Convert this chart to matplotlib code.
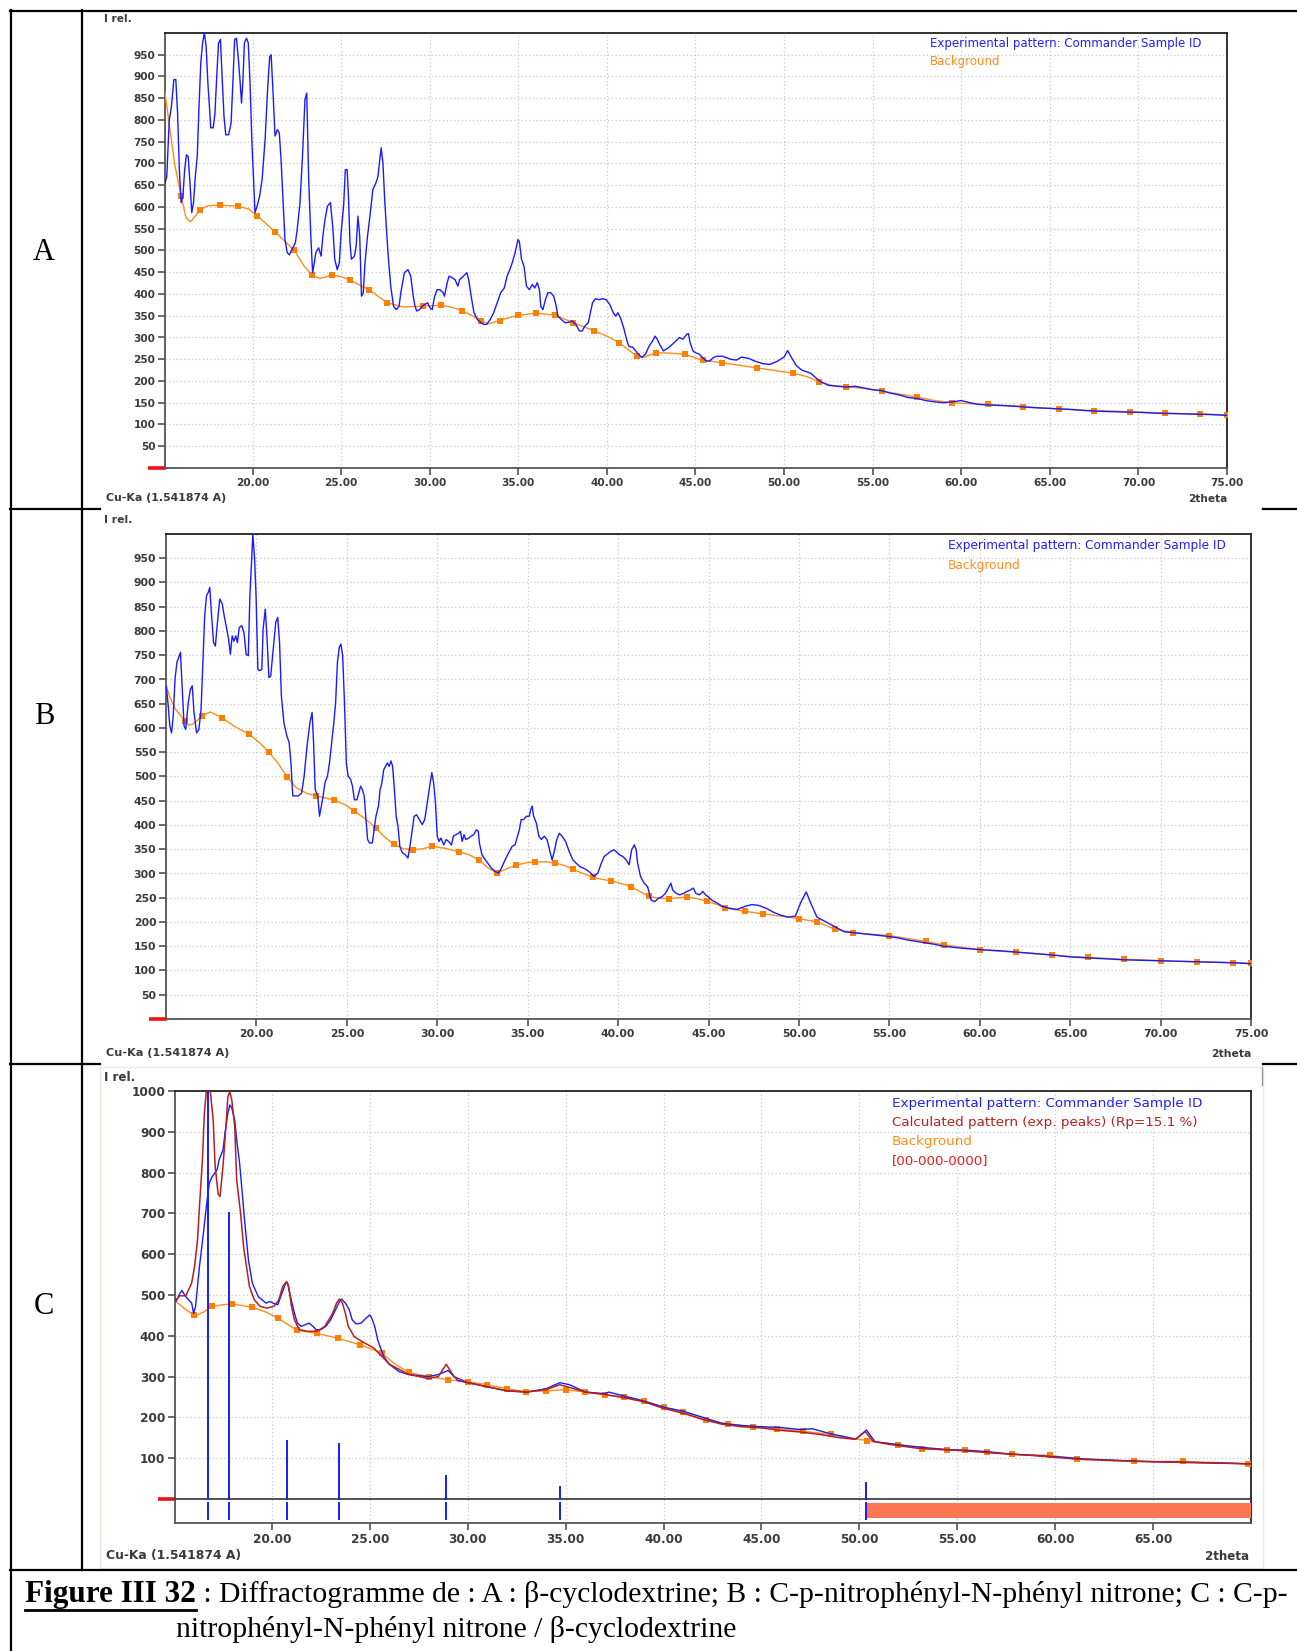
import matplotlib
matplotlib.use('Agg')
import matplotlib.pyplot as plt
from matplotlib.lines import Line2D
from matplotlib.patches import Rectangle
from matplotlib.transforms import blended_transform_factory

# ---- data : panel A (beta-cyclodextrine) ----
A_tt = [15.06, 15.16, 15.30, 15.42, 15.56, 15.67, 15.77, 15.87, 15.97, 16.07, 16.17, 16.27, 16.37, 16.47,
        16.57, 16.67, 16.77, 16.88, 16.98, 17.08, 17.18, 17.28, 17.38, 17.48, 17.58, 17.64, 17.78, 17.88,
        17.98, 18.08, 18.19, 18.29, 18.39, 18.49, 18.65, 18.79, 18.89, 18.99, 19.09, 19.19, 19.29, 19.38,
        19.46, 19.54, 19.66, 19.76, 19.86, 19.96, 20.06, 20.14, 20.26, 20.40, 20.54, 20.71, 20.85, 20.97,
        21.05, 21.15, 21.27, 21.41, 21.51, 21.61, 21.71, 21.83, 21.96, 22.08, 22.22, 22.42, 22.52, 22.68,
        22.82, 22.96, 23.06, 23.17, 23.29, 23.39, 23.49, 23.57, 23.73, 23.87, 23.97, 24.09, 24.23, 24.40,
        24.54, 24.64, 24.78, 24.90, 25.00, 25.14, 25.24, 25.34, 25.42, 25.50, 25.58, 25.75, 25.85, 25.95,
        26.05, 26.15, 26.25, 26.35, 26.49, 26.65, 26.79, 26.96, 27.08, 27.16, 27.26, 27.36, 27.46, 27.56,
        27.66, 27.80, 27.96, 28.12, 28.27, 28.37, 28.57, 28.77, 28.93, 29.07, 29.17, 29.27, 29.42, 29.58,
        29.74, 29.88, 30.02, 30.14, 30.28, 30.42, 30.58, 30.75, 30.83, 30.99, 31.09, 31.29, 31.43, 31.59,
        31.69, 31.90, 32.10, 32.20, 32.34, 32.50, 32.70, 32.90, 33.06, 33.21, 33.41, 33.61, 33.81, 34.01,
        34.21, 34.37, 34.52, 34.66, 34.82, 34.98, 35.06, 35.18, 35.32, 35.46, 35.63, 35.79, 35.93, 36.07,
        36.19, 36.27, 36.39, 36.53, 36.67, 36.83, 37.00, 37.14, 37.24, 37.44, 37.64, 37.84, 38.04, 38.25,
        38.45, 38.61, 38.75, 38.95, 39.09, 39.19, 39.35, 39.56, 39.76, 39.96, 40.16, 40.36, 40.50, 40.62,
        40.77, 40.97, 41.11, 41.23, 41.47, 41.77, 41.98, 42.18, 42.38, 42.58, 42.72, 42.84, 42.98, 43.19,
        43.49, 43.79, 44.09, 44.29, 44.50, 44.60, 44.70, 44.86, 45.00, 45.20, 45.40, 45.60, 45.81, 46.01,
        46.21, 46.51, 47.0, 47.3, 47.6, 48.0, 48.4, 48.8, 49.2, 49.6, 50.0, 50.2, 50.4, 50.7, 51.0, 51.5,
        52.0, 52.5, 53.0, 53.5, 54.0, 54.5, 55.0, 55.5, 56.0, 56.5, 57.0, 57.5, 58.0, 58.5, 59.0, 59.5,
        60.0, 60.5, 61.0, 61.5, 62.0, 63.0, 64.0, 65.0, 66.0, 67.0, 68.0, 69.0, 70.0, 71.0, 72.0, 73.0,
        74.0, 75.0]
A_exp = [655, 670, 800, 830, 893, 893, 816, 686, 610, 625, 686, 720, 716, 655,
         587, 610, 670, 716, 832, 931, 977, 1000, 970, 885, 824, 782, 782, 816,
         900, 977, 985, 893, 808, 766, 766, 793, 885, 985, 988, 946, 893, 839,
         893, 977, 988, 977, 885, 755, 663, 587, 602, 625, 663, 755, 870, 946,
         950, 870, 763, 778, 770, 709, 625, 525, 495, 490, 502, 518, 548, 610,
         717, 847, 862, 663, 533, 449, 472, 495, 506, 487, 533, 571, 602, 610,
         548, 480, 456, 472, 541, 602, 686, 686, 617, 518, 480, 487, 510, 579,
         533, 395, 403, 472, 533, 587, 640, 655, 670, 701, 736, 701, 617, 548,
         487, 418, 372, 364, 372, 403, 449, 456, 441, 395, 372, 361, 364, 372,
         376, 380, 368, 364, 395, 410, 410, 403, 395, 426, 441, 437, 433, 418,
         433, 441, 449, 433, 395, 357, 341, 334, 330, 330, 341, 357, 380, 403,
         414, 441, 456, 472, 495, 525, 521, 480, 464, 418, 410, 422, 414, 426,
         410, 372, 364, 387, 403, 403, 395, 372, 349, 341, 334, 335, 338, 330,
         315, 315, 326, 334, 361, 380, 389, 387, 389, 387, 376, 357, 349, 357,
         345, 319, 296, 280, 277, 262, 254, 262, 280, 292, 303, 296, 284, 269,
         277, 288, 300, 296, 307, 309, 288, 269, 265, 262, 254, 246, 246, 254,
         257, 257, 250, 248, 255, 252, 245, 240, 238, 245, 255, 270, 255, 235, 225, 218,
         200, 190, 188, 186, 188, 184, 180, 178, 172, 168, 162, 160, 155, 152, 150, 152,
         155, 150, 146, 145, 144, 142, 139, 137, 135, 132, 130, 129, 128, 126, 125, 124,
         123, 121]
A_bg_tt = [15.06, 15.3, 15.6, 15.97, 16.25, 16.5, 16.75, 17.04, 17.5, 18.15, 19.2, 19.8, 20.26, 21.27,
           21.8, 22.36, 22.9, 23.37, 23.8, 24.48, 25.0, 25.5, 26.6, 27.6, 28.5, 29.6, 30.64, 31.3,
           31.85, 32.4, 32.9, 33.3, 33.96, 34.5, 35.0, 36.0, 37.1, 38.1, 39.25, 40.0, 40.7, 41.2,
           41.7, 42.1, 42.8, 43.6, 44.4, 45.4, 46.5, 47.5, 48.5, 49.5, 50.5, 51.3, 52.0, 52.7,
           53.5, 54.5, 55.5, 56.5, 57.5, 58.5, 59.5, 60.5, 61.5, 62.5, 63.5, 64.5, 65.5, 66.5,
           67.5, 68.5, 69.5, 70.5, 71.5, 72.5, 73.5, 75.0]
A_bg = [862, 790, 700, 625, 575, 566, 578, 594, 603, 604, 602, 595, 580, 543,
        522, 500, 465, 443, 436, 443, 440, 432, 409, 380, 370, 372, 374, 369,
        361, 350, 339, 331, 339, 346, 351, 356, 351, 334, 316, 303, 288, 272,
        257, 255, 265, 264, 261, 248, 242, 236, 230, 224, 218, 210, 198, 190,
        187, 183, 177, 170, 163, 155, 150, 148, 146, 144, 141, 138, 136, 134,
        132, 131, 129, 128, 126, 125, 124, 122]
A_nodes = [15.97, 17.04, 18.15, 19.2, 20.26, 21.27, 22.36, 23.37, 24.48, 25.5, 26.6, 27.6, 29.6, 30.64,
           31.85, 32.9, 33.96, 35.0, 36.0, 37.1, 38.1, 39.25, 40.7, 41.7, 42.8, 44.4, 45.4, 46.5,
           48.5, 50.5, 52.0, 53.5, 55.5, 57.5, 59.5, 61.5, 63.5, 65.5, 67.5, 69.5, 71.5, 73.5, 75.0]

# ---- data : panel B (C-p-nitrophenyl-N-phenyl nitrone) ----
B_tt = [15.01, 15.11, 15.21, 15.31, 15.40, 15.50, 15.60, 15.70, 15.80, 15.90, 16.00, 16.09, 16.23, 16.35,
        16.45, 16.55, 16.69, 16.82, 16.94, 17.04, 17.14, 17.24, 17.34, 17.42, 17.51, 17.63, 17.73, 17.83,
        17.97, 18.11, 18.22, 18.36, 18.46, 18.56, 18.66, 18.76, 18.86, 18.95, 19.05, 19.19, 19.31, 19.43,
        19.55, 19.64, 19.74, 19.80, 19.90, 19.98, 20.08, 20.18, 20.30, 20.37, 20.49, 20.59, 20.69, 20.79,
        20.93, 21.07, 21.18, 21.28, 21.38, 21.52, 21.68, 21.81, 21.91, 22.01, 22.11, 22.31, 22.50, 22.64,
        22.80, 22.96, 23.08, 23.16, 23.25, 23.39, 23.49, 23.59, 23.69, 23.79, 23.93, 24.04, 24.18, 24.28,
        24.38, 24.48, 24.58, 24.67, 24.77, 24.87, 24.97, 25.07, 25.21, 25.31, 25.42, 25.56, 25.66, 25.76,
        25.86, 25.96, 26.06, 26.15, 26.25, 26.41, 26.51, 26.61, 26.75, 26.84, 26.94, 27.04, 27.14, 27.24,
        27.34, 27.44, 27.53, 27.63, 27.73, 27.83, 27.93, 28.07, 28.22, 28.38, 28.52, 28.62, 28.72, 28.86,
        29.01, 29.17, 29.31, 29.47, 29.61, 29.70, 29.80, 29.90, 30.00, 30.10, 30.20, 30.36, 30.49, 30.63,
        30.79, 30.89, 31.03, 31.18, 31.28, 31.38, 31.48, 31.58, 31.74, 31.87, 32.01, 32.17, 32.27, 32.33,
        32.47, 32.66, 32.86, 33.00, 33.20, 33.39, 33.55, 33.75, 33.94, 34.14, 34.30, 34.44, 34.54, 34.64,
        34.77, 34.93, 35.09, 35.17, 35.25, 35.33, 35.48, 35.62, 35.76, 35.92, 36.07, 36.21, 36.35, 36.47,
        36.61, 36.75, 36.90, 37.10, 37.30, 37.50, 37.69, 37.89, 38.09, 38.28, 38.48, 38.68, 38.88, 39.07,
        39.23, 39.37, 39.57, 39.76, 39.90, 40.06, 40.26, 40.45, 40.61, 40.75, 40.90, 41.00, 41.08, 41.24,
        41.44, 41.63, 41.83, 42.03, 42.23, 42.43, 42.62, 42.82, 42.92, 43.02, 43.22, 43.41, 43.61, 43.81,
        44.00, 44.16, 44.30, 44.50, 44.69, 44.83, 44.99, 45.19, 45.48, 45.78, 46.2, 46.6, 47.0, 47.4,
        47.8, 48.2, 48.6, 49.0, 49.4, 49.8, 50.1, 50.4, 50.7, 51.0, 51.5, 52.0, 52.5, 53.0, 53.5, 54.0,
        54.5, 55.0, 55.5, 56.0, 56.5, 57.0, 57.5, 58.0, 58.5, 59.0, 60.0, 61.0, 62.0, 63.0, 64.0, 65.0,
        66.0, 67.0, 68.0, 69.0, 70.0, 71.0, 72.0, 73.0, 74.0, 75.0]
B_exp = [687, 652, 604, 590, 625, 701, 735, 745, 756, 680, 604, 597, 652, 680,
         687, 632, 590, 597, 639, 735, 831, 873, 880, 890, 838, 776, 769, 811,
         866, 856, 831, 804, 783, 752, 790, 779, 790, 776, 807, 811, 797, 752,
         749, 873, 949, 1000, 949, 873, 721, 718, 721, 804, 845, 783, 704, 707,
         762, 818, 828, 776, 666, 611, 584, 570, 528, 460, 460, 460, 466, 501,
         563, 611, 632, 570, 473, 460, 418, 439, 460, 487, 501, 528, 577, 611,
         652, 735, 766, 773, 749, 652, 528, 501, 494, 480, 452, 452, 466, 480,
         473, 460, 411, 370, 363, 363, 390, 418, 439, 473, 487, 514, 521, 528,
         521, 532, 521, 473, 418, 397, 356, 343, 339, 332, 363, 390, 418, 421,
         411, 401, 411, 452, 487, 508, 487, 446, 377, 366, 373, 359, 370, 366,
         359, 377, 380, 383, 387, 366, 380, 370, 373, 377, 380, 390, 387, 363,
         339, 328, 318, 311, 304, 301, 311, 328, 342, 356, 359, 377, 390, 411,
         411, 418, 418, 432, 439, 418, 404, 377, 370, 377, 370, 349, 328, 345,
         370, 383, 377, 366, 345, 328, 321, 314, 311, 307, 301, 294, 301, 321,
         335, 339, 345, 349, 345, 339, 335, 328, 318, 349, 359, 349, 321, 294,
         280, 273, 245, 242, 249, 252, 259, 273, 280, 266, 259, 256, 259, 263,
         266, 270, 259, 256, 263, 256, 252, 245, 239, 232, 228, 226, 232, 236,
         234, 228, 220, 214, 210, 212, 240, 262, 235, 210, 200, 190, 180, 178, 176, 174,
         172, 170, 167, 163, 160, 157, 154, 150, 148, 146, 143, 141, 138, 135, 132, 128,
         126, 124, 122, 121, 120, 119, 118, 117, 116, 114]
B_bg_tt = [15.01, 15.2, 15.5, 16.04, 16.25, 16.5, 17.0, 17.45, 18.1, 18.8, 19.6, 20.1, 20.7, 21.2,
           21.7, 22.2, 22.8, 23.3, 23.8, 24.3, 24.9, 25.4, 26.0, 26.6, 27.1, 27.6, 28.15, 28.66,
           29.2, 29.7, 30.4, 31.2, 31.8, 32.3, 32.8, 33.3, 33.8, 34.34, 34.9, 35.4, 36.0, 36.5,
           37.0, 37.5, 38.0, 38.6, 39.1, 39.6, 40.1, 40.7, 41.2, 41.7, 42.25, 42.8, 43.3, 43.8,
           44.4, 44.9, 45.4, 45.9, 47.0, 48.0, 49.0, 50.0, 51.0, 52.0, 53.0, 54.0, 55.0, 56.0,
           57.0, 58.0, 59.0, 60.0, 61.0, 62.0, 63.0, 64.0, 65.0, 66.0, 67.0, 68.0, 69.0, 70.0,
           71.0, 72.0, 73.0, 74.0, 75.0]
B_bg = [687, 665, 640, 615, 606, 608, 625, 633, 621, 603, 587, 572, 550, 527,
        499, 477, 465, 460, 456, 451, 442, 429, 413, 394, 375, 360, 351, 349,
        351, 356, 352, 345, 338, 328, 312, 301, 309, 317, 322, 324, 324, 322,
        317, 309, 301, 292, 288, 285, 280, 273, 263, 253, 249, 248, 250, 251,
        248, 243, 237, 229, 222, 217, 212, 207, 200, 185, 178, 175, 172, 166,
        160, 153, 148, 143, 140, 138, 135, 132, 129, 127, 125, 123, 122, 120,
        119, 118, 117, 116, 115]
B_nodes = [16.04, 17.0, 18.1, 19.6, 20.7, 21.7, 23.3, 24.3, 25.4, 26.6, 27.6, 28.66, 29.7, 31.2,
           32.3, 33.3, 34.34, 35.4, 36.5, 37.5, 38.6, 39.6, 40.7, 41.7, 42.8, 43.8, 44.9, 45.9,
           47.0, 48.0, 50.0, 51.0, 52.0, 53.0, 55.0, 57.0, 58.0, 60.0, 62.0, 64.0, 66.0, 68.0,
           70.0, 72.0, 74.0, 75.0]

# ---- data : panel C (nitrone / beta-cyclodextrine) ----
C_tt = [15.1, 15.3, 15.4, 15.6, 15.9, 16.0, 16.1, 16.3, 16.5, 16.65, 16.8, 16.95, 17.2, 17.3,
        17.5, 17.6, 17.75, 17.85, 17.95, 18.1, 18.2, 18.35, 18.5, 18.6, 18.8, 19.0, 19.3, 19.7,
        19.9, 20.05, 20.3, 20.45, 20.7, 20.8, 20.95, 21.15, 21.3, 21.5, 21.7, 21.9, 22.1, 22.25,
        22.5, 22.75, 23.0, 23.25, 23.45, 23.55, 23.75, 23.95, 24.1, 24.3, 24.55, 24.8, 25.0, 25.1,
        25.25, 25.4, 25.7, 26.0, 26.5, 27.0, 27.5, 28.0, 28.5, 29.0, 29.5, 30.0, 31.0, 32.0,
        33.0, 34.0, 34.7, 35.2, 36.0, 37.0, 37.2, 38.0, 39.0, 40.0, 41.0, 42.0, 43.0, 44.0,
        45.0, 46.0, 47.0, 47.6, 48.5, 49.5, 49.8, 50.36, 50.8, 51.5, 52.5, 53.5, 54.5, 55.5,
        56.5, 57.5, 58.5, 59.5, 60.5, 61.5, 62.5, 63.5, 64.5, 65.5, 66.5, 67.5, 68.5, 70.0]
C_exp = [484, 504, 511, 496, 480, 455, 472, 570, 651, 717, 774, 790, 807, 831,
         855, 896, 945, 966, 958, 929, 880, 823, 741, 684, 586, 529, 496, 480,
         484, 480, 476, 496, 529, 529, 496, 455, 431, 423, 427, 431, 423, 415,
         415, 423, 439, 464, 484, 490, 480, 464, 439, 429, 431, 443, 451, 443,
         423, 390, 350, 330, 312, 305, 302, 300, 305, 315, 290, 285, 275, 265,
         262, 270, 285, 280, 262, 258, 262, 252, 240, 225, 215, 200, 185, 180,
         177, 175, 170, 172, 160, 150, 146, 169, 140, 136, 130, 125, 121, 119,
         116, 111, 108, 105, 102, 98, 96, 94, 92, 91, 90, 89, 88, 86]
C_calc_tt = [15.1, 15.3, 15.6, 15.9, 16.05, 16.2, 16.3, 16.45, 16.55, 16.65, 16.85, 17.0, 17.1, 17.25,
             17.35, 17.5, 17.65, 17.75, 17.85, 17.95, 18.1, 18.2, 18.4, 18.55, 18.7, 18.85, 19.1, 19.4,
             19.75, 20.1, 20.35, 20.55, 20.75, 20.85, 21.0, 21.15, 21.4, 21.8, 22.3, 22.7, 23.1, 23.3,
             23.45, 23.6, 23.75, 23.9, 24.2, 24.6, 25.2, 26.0, 27.0, 28.0, 28.5, 28.9, 29.3, 30.0,
             31.0, 32.0, 33.0, 34.0, 34.7, 35.3, 36.0, 37.0, 38.0, 39.0, 40.0, 41.0, 42.0, 43.0,
             44.0, 45.0, 46.0, 47.0, 48.0, 49.0, 49.8, 50.3, 50.7, 51.5, 53.0, 55.0, 57.0, 59.0,
             61.0, 63.0, 65.0, 67.0, 70.0]
C_calc = [488, 498, 498, 529, 570, 635, 717, 831, 945, 1000, 1000, 929, 815, 749,
          741, 815, 913, 986, 998, 978, 913, 782, 700, 619, 570, 521, 488, 472,
          468, 472, 488, 521, 533, 521, 472, 439, 415, 411, 411, 423, 455, 480,
          490, 480, 455, 423, 398, 386, 370, 330, 305, 295, 300, 330, 300, 285,
          275, 265, 262, 268, 280, 272, 262, 256, 248, 238, 222, 210, 195, 183,
          177, 174, 168, 164, 158, 150, 146, 165, 141, 134, 124, 119, 112, 106,
          98, 94, 91, 89, 86]
C_bg_tt = [15.1, 15.5, 16.0, 16.1, 16.5, 16.95, 17.5, 17.95, 19.0, 19.7, 20.3, 20.8, 21.3, 22.3,
           23.35, 24.5, 25.6, 26.3, 27.0, 28.0, 29.0, 30.0, 31.0, 32.0, 33.0, 34.0, 35.0, 36.0,
           37.0, 38.0, 39.0, 40.0, 41.0, 42.15, 43.3, 44.58, 45.8, 47.1, 48.53, 50.38, 51.97, 53.2,
           54.46, 55.4, 56.5, 57.8, 59.75, 61.1, 62.5, 64.0, 65.3, 66.55, 68.2, 69.87]
C_bg = [484, 468, 451, 449, 458, 472, 476, 478, 470, 458, 443, 428, 413, 406,
        394, 378, 358, 330, 310, 300, 292, 287, 280, 270, 263, 265, 268, 262,
        255, 250, 240, 225, 212, 193, 184, 177, 172, 166, 158, 143, 133, 123,
        120, 120, 115, 109, 107, 97, 95, 92, 92, 92, 89, 86]
C_nodes = [16.0, 16.95, 17.95, 19.0, 20.3, 21.3, 22.3, 23.35, 24.5, 25.6, 27.0, 28.0, 29.0, 30.0,
           31.0, 32.0, 33.0, 34.0, 35.0, 36.0, 37.0, 38.0, 39.0, 40.0, 41.0, 42.15, 43.3, 44.58,
           45.8, 47.1, 48.53, 50.38, 51.97, 53.2, 54.46, 55.4, 56.5, 57.8, 59.75, 61.1, 64.0,
           66.55, 69.87]

# reference phase sticks [00-000-0000]
C_stick_tt = [16.74, 17.83, 20.75, 23.44, 28.89, 34.73, 50.36]
C_stick_h = [1000, 700, 143, 135, 57, 30, 38]
C_range_start = 50.36

BLUE = '#1a1aff'
ORANGE = '#ff8c1a'
DARKRED = '#b42020'
RED = '#e62020'
TXT = '#3a3a3a'

W, H = 1297, 1651
fig = plt.figure(figsize=(W / 100, H / 100), dpi=100)


def box(x0, y0, x1, y1):
    return [x0 / W, 1 - y1 / H, (x1 - x0) / W, (y1 - y0) / H]


def node_values(nodes, xs, ys):
    out = []
    for n in nodes:
        i = min(range(len(xs)), key=lambda k: abs(xs[k] - n))
        out.append(ys[i])
    return out


def panel(rect, xlim, ylim, xticks, yticks, fs):
    ax = fig.add_axes(box(*rect))
    ax.set_xlim(*xlim)
    ax.set_ylim(*ylim)
    ax.set_xticks(xticks)
    ax.set_xticklabels(['%.2f' % t for t in xticks])
    ax.set_yticks(yticks)
    ax.set_yticklabels([str(t) for t in yticks])
    ax.grid(True, color='#c8c8c8', linestyle=(0, (1, 2)), linewidth=0.9)
    ax.set_axisbelow(True)
    ax.tick_params(labelsize=fs, colors='#444444', labelcolor=TXT, length=5, width=1.1, pad=2)
    for lbl in ax.get_xticklabels() + ax.get_yticklabels():
        lbl.set_fontweight('bold')
    for s in ('left', 'bottom'):
        ax.spines[s].set_color('#555555')
        ax.spines[s].set_linewidth(1.3)
    for s in ('top', 'right'):
        ax.spines[s].set_color('#222222')
        ax.spines[s].set_linewidth(1.3)
    # red zero marker sticking out on the left
    tr = blended_transform_factory(ax.transAxes, ax.transData)
    ax.add_line(Line2D([-0.016, 0.001], [0, 0], transform=tr, color='#ee1111', lw=2.6, clip_on=False,
                       solid_capstyle='butt'))
    return ax


def draw_bg(ax, xs, ys, nodes):
    ax.plot(xs, ys, color=ORANGE, lw=1.0, zorder=3)
    ax.plot(nodes, node_values(nodes, xs, ys), 's', color='#ff7f00', ms=3.8, mew=0, zorder=4)


def fig_text(x, y, s, **kw):
    fig.text(x / W, 1 - y / H, s, **kw)


def axis_texts(ax_right, y_irel, y_cu, fs):
    fig_text(104, y_irel, 'I rel.', fontsize=fs, color=TXT, va='center', fontweight='bold')
    fig_text(106, y_cu, 'Cu-Ka (1.541874 A)', fontsize=fs + 0.3, color=TXT, va='center', fontweight='bold')
    fig_text(ax_right, y_cu + 1, '2theta', fontsize=fs, color=TXT, va='center', ha='right', fontweight='bold')


# ---------------- panel A ----------------
axA = panel((165, 33, 1227, 468), (15.06, 75.0), (0, 1000), [20, 25, 30, 35, 40, 45, 50, 55, 60, 65, 70, 75],
            list(range(50, 1000, 50)), 7.6)
axA.plot(A_tt, A_exp, color=BLUE, lw=1.0, zorder=5)
draw_bg(axA, A_bg_tt, A_bg, A_nodes)
axis_texts(1227, 19, 498, 7.6)
fig_text(930, 43, 'Experimental pattern: Commander Sample ID', fontsize=8.5, color='#2020ff', va='center')
fig_text(930, 61, 'Background', fontsize=8.5, color='#ff8c1a', va='center')

# ---------------- panel B ----------------
axB = panel((166, 534, 1251, 1019), (15.0, 75.0), (0, 1000), [20, 25, 30, 35, 40, 45, 50, 55, 60, 65, 70, 75],
            list(range(50, 1000, 50)), 7.8)
axB.plot(B_tt, B_exp, color=BLUE, lw=1.0, zorder=5)
draw_bg(axB, B_bg_tt, B_bg, B_nodes)
axis_texts(1251, 520, 1053, 7.8)
fig_text(948, 545, 'Experimental pattern: Commander Sample ID', fontsize=8.7, color='#2020ff', va='center')
fig_text(948, 565, 'Background', fontsize=8.7, color='#ff8c1a', va='center')

# ---------------- panel C ----------------
axC = panel((175, 1091, 1251, 1523), (15.05, 70.0), (-59, 1000), [20, 25, 30, 35, 40, 45, 50, 55, 60, 65],
            list(range(100, 1001, 100)), 8.7)
axC.axhline(0, color='#333333', lw=1.2, zorder=6)
axC.fill_between([C_range_start, 70.0], -46, -10, color='#ff7553', lw=0, zorder=6)
for t, h in zip(C_stick_tt, C_stick_h):
    axC.plot([t, t], [0, h], color='#1a1aff', lw=1.4, zorder=7)
    axC.plot([t, t], [-11, -48], color='#1a1aff', lw=1.4, zorder=7)
draw_bg(axC, C_bg_tt, C_bg, C_nodes)
axC.plot(C_tt, C_exp, color=BLUE, lw=1.0, zorder=5)
axC.plot(C_calc_tt, C_calc, color=DARKRED, lw=1.1, zorder=5)
axis_texts(1249, 1077, 1555, 8.6)
fig_text(892, 1103, 'Experimental pattern: Commander Sample ID', fontsize=9.7, color='#2020ff', va='center')
fig_text(892, 1122, 'Calculated pattern (exp. peaks) (Rp=15.1 %)', fontsize=9.7, color=DARKRED, va='center')
fig_text(892, 1142, 'Background', fontsize=9.7, color='#ff8c1a', va='center')
fig_text(892, 1161, '[00-000-0000]', fontsize=9.7, color=RED, va='center')

# ---------------- table frame ----------------
def hline(y, x0, x1, lw=1.6, color='black'):
    fig.add_artist(Line2D([x0 / W, x1 / W], [1 - y / H, 1 - y / H], color=color, lw=lw))


def vline(x, y0, y1, lw=1.6, color='black'):
    fig.add_artist(Line2D([x / W, x / W], [1 - y0 / H, 1 - y1 / H], color=color, lw=lw))


vline(10.5, 10, 1651)
vline(82, 10, 1570)
hline(11, 10, 1297)
hline(509, 10, 100)
hline(509, 1263, 1297)
hline(1064, 10, 100)
hline(1064, 1263, 1297)
hline(1570, 10, 1297)
# faint frame of the third diffractogram
fig.add_artist(Rectangle((100 / W, 1 - 1568 / H), (1263 - 100) / W, (1568 - 1067) / H, fill=False,
                         edgecolor='#ebe8dc', lw=1.0))
vline(1262, 1068, 1085, lw=1.0, color='#9a9a9a')

for letter, y in (('A', 252), ('B', 716), ('C', 1306)):
    fig_text(44, y, letter, fontsize=22, family='Liberation Serif', ha='center', va='center')

# caption with underlined bold lead
cap_y = 1594
bold = fig.text(25 / W, 1 - cap_y / H, 'Figure III 32', fontsize=22.5, family='Liberation Serif',
                fontweight='bold', va='center')
fig.canvas.draw()
bb = bold.get_window_extent()
fig.text(bb.x1 / W, 1 - cap_y / H,
         ' : Diffractogramme de : A : \u03b2-cyclodextrine; B : C-p-nitroph\u00e9nyl-N-ph\u00e9nyl nitrone; C : C-p-',
         fontsize=21.3, family='Liberation Serif', va='center')
fig.add_artist(Line2D([bb.x0 / W, bb.x1 / W], [(bb.y0 - 1.0) / H, (bb.y0 - 1.0) / H], color='black', lw=2.0))
fig_text(176, 1629, 'nitroph\u00e9nyl-N-ph\u00e9nyl nitrone / \u03b2-cyclodextrine', fontsize=21.3,
         family='Liberation Serif', va='center')

fig.savefig('out.png', dpi=100)
